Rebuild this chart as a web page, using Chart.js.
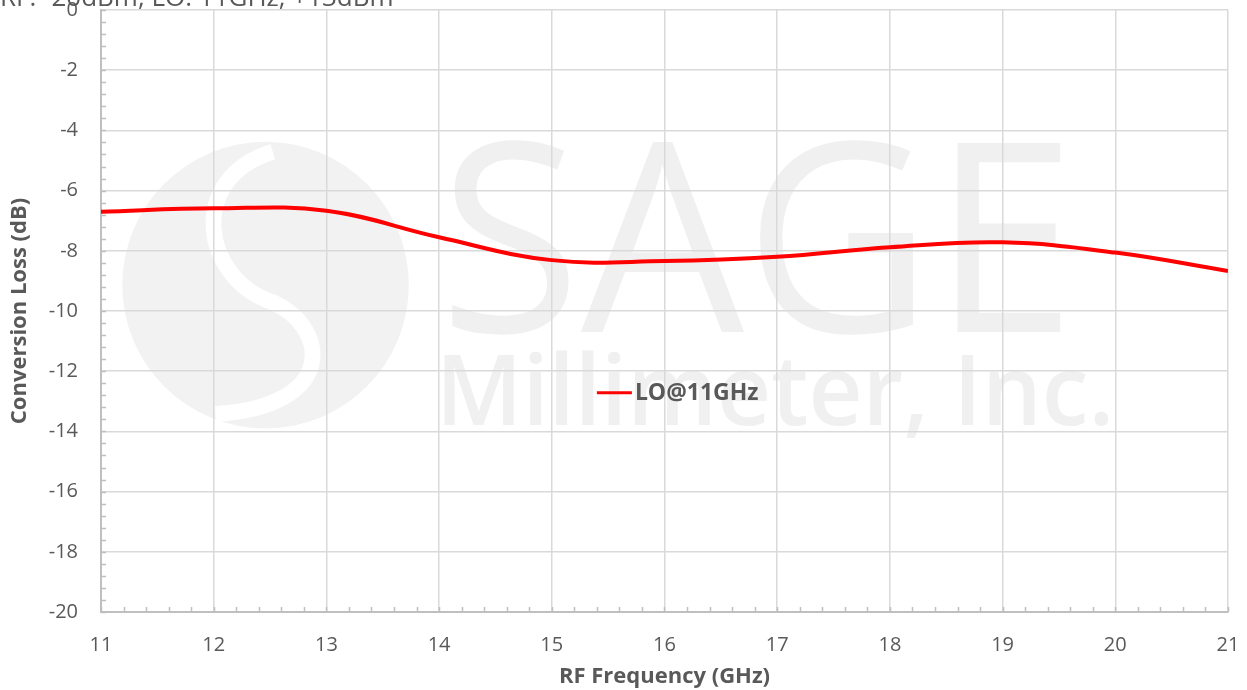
<!DOCTYPE html>
<html>
<head>
<meta charset="utf-8">
<script src="https://cdn.jsdelivr.net/npm/chart.js@4.4.0/dist/chart.umd.min.js"></script>
<style>
  html, body { margin: 0; padding: 0; background: #fff; }
</style>
</head>
<body>
<canvas id="chart" width="1247" height="690"></canvas>
<script>
// data
const freqGHz = [11, 12, 13, 14, 15, 16, 17, 18, 19, 20, 21];
const convLossLO11 = [-6.70, -6.59, -6.67, -7.55, -8.31, -8.34, -8.20, -7.88, -7.72, -8.06, -8.67];
const seriesName = "LO@11GHz";
const chartTitle = "RF: -20dBm, LO: 11GHz, +13dBm";
const xTitle = "RF Frequency (GHz)";
const yTitle = "Conversion Loss (dB)";
const yMin = -20, yMax = 0, yStep = 2;
const xMin = 11, xMax = 21, xStep = 1;
const minorDiv = 5;

const FONT = "'Open Sans', sans-serif";
const GREY_TEXT = "#595959";

// faint company logo behind the plot
const watermark = {
  id: "watermark",
  beforeDraw(chart) {
    const { ctx, chartArea: a } = chart;
    const w = a.right - a.left, h = a.bottom - a.top;
    ctx.save();
    ctx.fillStyle = "#f2f2f2";
    // round emblem
    const cx = a.left + w * 0.146, cy = a.top + h * 0.457, r = h * 0.238;
    ctx.beginPath();
    ctx.arc(cx, cy, r, 0, Math.PI * 2);
    ctx.fill();
    ctx.strokeStyle = "#ffffff";
    ctx.lineWidth = r * 0.11;
    ctx.beginPath();
    ctx.moveTo(cx + r * 0.05, cy - r * 0.93);
    ctx.bezierCurveTo(cx - r * 0.55, cy - r * 0.75, cx - r * 0.45, cy - r * 0.05, cx + r * 0.05, cy + r * 0.12);
    ctx.bezierCurveTo(cx + r * 0.45, cy + r * 0.3, cx + r * 0.5, cy + r * 0.85, cx - r * 0.35, cy + r * 0.9);
    ctx.stroke();

    ctx.fillStyle = "#f0f0f0";
    ctx.textBaseline = "alphabetic";
    ctx.textAlign = "left";
    // SAGE
    ctx.font = "400 265px 'Open Sans', sans-serif";
    let tw = ctx.measureText("SAGE").width;
    let x0 = a.left + w * 0.30, tx = w * 0.565;
    ctx.save();
    ctx.translate(x0, a.top + h * 0.535);
    ctx.scale(tx / tw, 1);
    ctx.fillText("SAGE", 0, 0);
    ctx.restore();
    // Millimeter, Inc.
    ctx.font = "600 98px 'Open Sans', sans-serif";
    tw = ctx.measureText("Millimeter, Inc.").width;
    x0 = a.left + w * 0.297; tx = w * 0.602;
    ctx.save();
    ctx.translate(x0, a.top + h * 0.69);
    ctx.scale(tx / tw, 1);
    ctx.fillText("Millimeter, Inc.", 0, 0);
    ctx.restore();
    ctx.restore();
  }
};

// minor tick marks on both axes, pointing into the plot
const minorTicks = {
  id: "minorTicks",
  beforeDatasetsDraw(chart) {
    const { ctx, chartArea: a, scales } = chart;
    ctx.save();
    ctx.strokeStyle = "#bfbfbf";
    ctx.lineWidth = 1.5;
    ctx.beginPath();
    for (let v = yMin; v < yMax; v += yStep / minorDiv) {
      const y = Math.round(scales.y.getPixelForValue(v)) + 0.5;
      ctx.moveTo(a.left, y);
      ctx.lineTo(a.left + 5, y);
    }
    for (let v = xMin; v < xMax; v += xStep / minorDiv) {
      const x = Math.round(scales.x.getPixelForValue(v)) + 0.5;
      ctx.moveTo(x, a.bottom);
      ctx.lineTo(x, a.bottom - 5);
    }
    ctx.stroke();
    ctx.restore();
  }
};

// legend sits inside the plot, and the chart title is cut off at the top edge
const extras = {
  id: "extras",
  afterDraw(chart) {
    const { ctx, chartArea: a } = chart;
    const w = a.right - a.left, h = a.bottom - a.top;
    const ds = chart.data.datasets[0];
    const lx = a.left + w * 0.440, ly = a.top + h * 0.636;
    ctx.save();
    ctx.strokeStyle = ds.borderColor;
    ctx.lineWidth = 3;
    ctx.beginPath();
    ctx.moveTo(lx, ly);
    ctx.lineTo(lx + 35, ly);
    ctx.stroke();
    ctx.fillStyle = GREY_TEXT;
    ctx.font = "bold 23px " + FONT;
    ctx.textBaseline = "middle";
    ctx.fillText(ds.label, lx + 38, ly + 1);

    ctx.font = "26px " + FONT;
    ctx.textBaseline = "alphabetic";
    ctx.fillText(chartTitle, 0, 6);
    ctx.restore();
  }
};

new Chart(document.getElementById("chart"), {
  type: "line",
  data: {
    datasets: [{
      label: seriesName,
      data: freqGHz.map((f, i) => ({ x: f, y: convLossLO11[i] })),
      borderColor: "#ff0000",
      borderWidth: 4,
      pointRadius: 0,
      tension: 0.4,
      fill: false
    }]
  },
  options: {
    responsive: false,
    animation: false,
    layout: { padding: { top: 10, right: 19, left: 0, bottom: 0 } },
    plugins: { legend: { display: false }, tooltip: { enabled: false } },
    scales: {
      x: {
        type: "linear",
        min: xMin, max: xMax,
        afterFit(s) { s.height = 78; s.paddingLeft = 0; s.paddingRight = 0; },
        ticks: { stepSize: xStep, padding: 21, color: GREY_TEXT, font: { family: FONT, size: 20 } },
        grid: { color: "#d9d9d9", lineWidth: 1.5, drawTicks: false },
        border: { color: "#bfbfbf", width: 2 },
        title: { display: true, text: xTitle, color: GREY_TEXT, padding: { top: 0, bottom: 0 },
                 font: { family: FONT, size: 22, weight: "bold" } }
      },
      y: {
        type: "linear",
        min: yMin, max: yMax,
        afterFit(s) { s.width = 101; s.paddingTop = 0; s.paddingBottom = 0; },
        ticks: { stepSize: yStep, padding: 23, color: GREY_TEXT, font: { family: FONT, size: 20 } },
        grid: { color: "#d9d9d9", lineWidth: 1.5, drawTicks: false },
        border: { color: "#bfbfbf", width: 2 },
        title: { display: true, text: yTitle, color: GREY_TEXT, padding: { top: 7, bottom: 0 },
                 font: { family: FONT, size: 22, weight: "bold" } }
      }
    }
  },
  plugins: [watermark, minorTicks, extras]
});
</script>
</body>
</html>
